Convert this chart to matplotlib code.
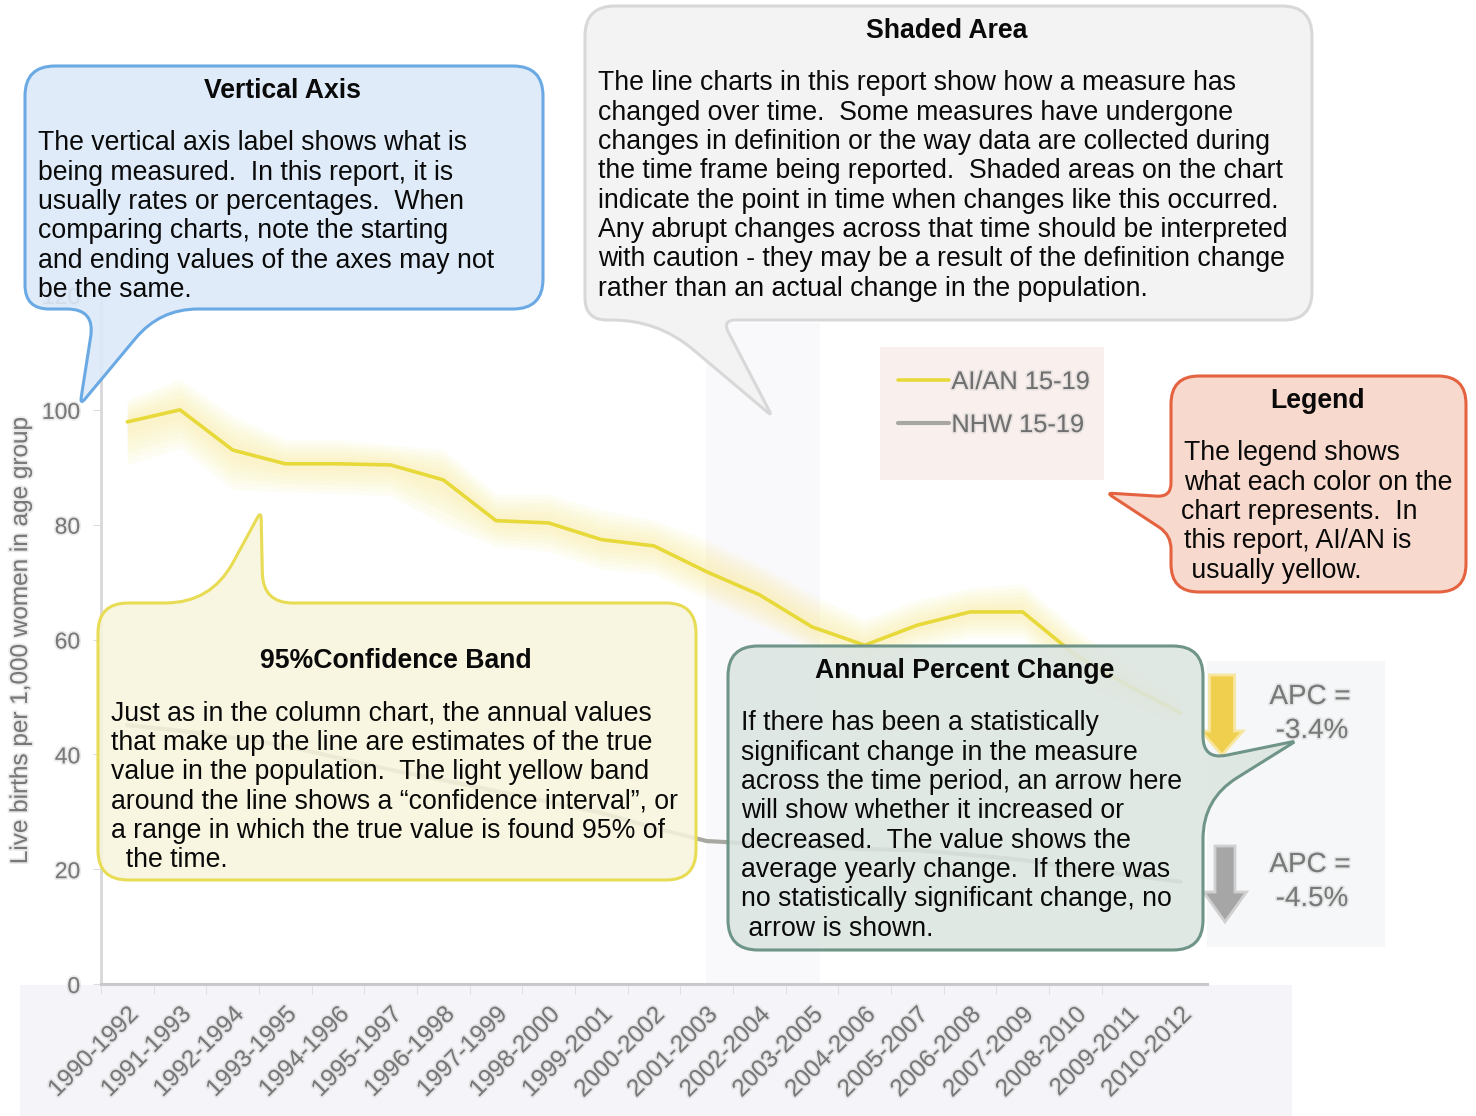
import matplotlib
matplotlib.use('Agg')
import matplotlib.pyplot as plt
import matplotlib.patheffects as pe
import numpy as np
from matplotlib.patches import FancyArrow, PathPatch, Rectangle
from matplotlib.path import Path

# Values
periods = ['1990-1992', '1991-1993', '1992-1994', '1993-1995', '1994-1996', '1995-1997', '1996-1998',
           '1997-1999', '1998-2000', '1999-2001', '2000-2002', '2001-2003', '2002-2004', '2003-2005',
           '2004-2006', '2005-2007', '2006-2008', '2007-2009', '2008-2010', '2009-2011', '2010-2012']
aian = [97.9, 100, 93, 90.6, 90.6, 90.4, 87.8, 80.7, 80.3, 77.4, 76.3, 71.8, 67.8, 62.2, 59, 62.5, 64.8,
        64.8, 57.3, 52, 47.2]
aian_upper = [101.7, 105.4, 99, 94.8, 94.8, 93.9, 93.1, 85.3, 85.3, 82.6, 80.8, 77.4, 73, 67.8, 63.5, 66.9,
              69, 69.7, 61.8, 55.7, 49.5]
aian_lower = [90.4, 93.3, 86.1, 85.7, 85.4, 85, 80, 76.2, 75.3, 72.2, 71.4, 67, 62.7, 58.5, 54.7, 58.5,
              60.3, 60.3, 52.6, 48.8, 45.1]
nhw = [45.1, 44.1, 42.9, 41.5, 39.4, 37.3, 35.5, 33.6, 31.7, 29.8, 27.2, 24.9, 24.4, 23.9, 23.5, 23.3, 22.5,
       21.6, 20.2, 19, 17.8]
y_ticks = [0, 20, 40, 60, 80, 100, 120]

vertical_lines = ['The vertical axis label shows what is', 'being measured.  In this report, it is',
                  'usually rates or percentages.  When', 'comparing charts, note the starting',
                  'and ending values of the axes may not', 'be the same.']
shaded_lines = ['The line charts in this report show how a measure has',
                'changed over time.  Some measures have undergone',
                'changes in definition or the way data are collected during',
                'the time frame being reported.  Shaded areas on the chart',
                'indicate the point in time when changes like this occurred.',
                'Any abrupt changes across that time should be interpreted',
                'with caution - they may be a result of the definition change',
                'rather than an actual change in the population.']
legend_lines = ['The legend shows', 'what each color on the', 'chart represents.  In',
                'this report, AI/AN is', ' usually yellow.']
band_lines = ['Just as in the column chart, the annual values', 'that make up the line are estimates of the true',
              'value in the population.  The light yellow band', 'around the line shows a “confidence interval”, or',
              'a range in which the true value is found 95% of', '  the time.']
apc_lines = ['If there has been a statistically', 'significant change in the measure',
             'across the time period, an arrow here', 'will show whether it increased or',
             'decreased.  The value shows the', 'average yearly change.  If there was',
             'no statistically significant change, no', ' arrow is shown.']

W, H = 1476, 1116
plt.rcParams['font.family'] = ['Liberation Sans', 'DejaVu Sans']
GREY = '#787878'
SOFT = [pe.withStroke(linewidth=2.5, foreground='#c4c4c4', alpha=0.35)]


def pixel_axes(zorder):
    ax = fig.add_axes([0, 0, 1, 1], zorder=zorder)
    ax.set_xlim(0, W)
    ax.set_ylim(H, 0)
    ax.axis('off')
    return ax


def rounded_path(points):
    # polygon with a corner radius per vertex, given as (x, y, r)
    verts, codes = [], []
    n = len(points)
    for i in range(n):
        p = np.array(points[i][:2], dtype=float)
        r = points[i][2]
        before = np.array(points[i - 1][:2], dtype=float) - p
        after = np.array(points[(i + 1) % n][:2], dtype=float) - p
        start = p + before / np.linalg.norm(before) * r
        end = p + after / np.linalg.norm(after) * r
        verts.append(start)
        codes.append(Path.MOVETO if i == 0 else Path.LINETO)
        verts += [p, end]
        codes += [Path.CURVE3, Path.CURVE3]
    verts.append(verts[0])
    codes.append(Path.CLOSEPOLY)
    return Path(verts, codes)


def callout(ax, points, face, edge, alpha=0.9):
    ax.add_patch(PathPatch(rounded_path(points), facecolor=matplotlib.colors.to_rgba(face, alpha),
                           edgecolor=edge, linewidth=2.2, zorder=3))


def body_text(ax, x, y, lines, step=29.3, size=19.2):
    for i, line in enumerate(lines):
        ax.text(x, y + i * step, line, fontsize=size, color='#0a0a0a', va='center', ha='left', zorder=4)


def title_text(ax, x, y, text):
    ax.text(x, y, text, fontsize=19.2, fontweight='bold', color='#0a0a0a', va='center', ha='center', zorder=4)


fig = plt.figure(figsize=(W / 100, H / 100), dpi=100, facecolor='white')

# Pale scanned-in panels behind the chart
back = pixel_axes(0)
back.add_patch(Rectangle((20, 985), 1272, 131, facecolor='#f5f5f9', edgecolor='none'))
back.add_patch(Rectangle((880, 347), 224, 133, facecolor='#f9f0ee', edgecolor='none'))
back.add_patch(Rectangle((1207, 661), 178, 286, facecolor='#f5f7f8', edgecolor='none'))

# Chart
ax = fig.add_axes([101 / W, 1 - 984 / H, (1207 - 101) / W, (984 - 295) / H], zorder=1)
ax.patch.set_alpha(0)
x = np.arange(len(periods))
ax.set_xlim(-0.5, 20.5)
ax.set_ylim(0, 120)
ax.axvspan(10.98, 13.16, ymax=0.96, color='#f9f9fb', lw=0, zorder=0)

# Soft edged band, built up from the limits towards the line
line_vals = np.array(aian)
upper = np.array(aian_upper)
lower = np.array(aian_lower)
for frac in [1.0, 0.85, 0.7, 0.55, 0.4, 0.25]:
    ax.fill_between(x, line_vals + frac * (lower - line_vals), line_vals + frac * (upper - line_vals),
                    color='#fbe98c', alpha=0.09, lw=0, zorder=1)

ax.plot(x, nhw, color='#a9a8a0', lw=3, label='NHW 15-19', zorder=2, solid_capstyle='round')
ax.plot(x, aian, color='#e8d93a', lw=2.6, label='AI/AN 15-19', zorder=3, solid_capstyle='round')

for side in ['top', 'right']:
    ax.spines[side].set_visible(False)
ax.spines['left'].set_color('#d8d8da')
ax.spines['left'].set_linewidth(2)
ax.spines['bottom'].set_color('#c9c9cb')
ax.spines['bottom'].set_linewidth(2.2)

ax.set_yticks(y_ticks)
ax.tick_params(axis='y', length=6, color='#dddddd', labelsize=16.5, labelcolor=GREY, pad=9)
ax.set_xticks(x)
ax.set_xticklabels(periods, rotation=45, ha='right', rotation_mode='anchor', fontsize=17.5, color=GREY)
ax.tick_params(axis='x', length=0, pad=14)
ax.set_xticks(x[:-1] - 0.5, minor=True)
ax.tick_params(axis='x', which='minor', length=7, color='#dddddd')
ax.set_ylabel('Live births per 1,000 women in age group', fontsize=17.5, color=GREY)
ax.yaxis.set_label_coords(-69 / (1207 - 101), (984 - 641) / (984 - 295))
for label in ax.get_xticklabels() + ax.get_yticklabels() + [ax.yaxis.label]:
    label.set_path_effects(SOFT)

handles, labels = ax.get_legend_handles_labels()
leg = ax.legend(handles[::-1], labels[::-1], loc='upper left', frameon=False, fontsize=18.3,
                bbox_to_anchor=((898 - 101) / (1207 - 101), (984 - 370) / (984 - 295)), borderpad=0,
                borderaxespad=0, handlelength=2.0, handletextpad=0.1, labelspacing=0.75, labelcolor='#6f6f6f')
for text in leg.get_texts():
    text.set_path_effects(SOFT)

# Callouts and the APC arrows sit on top
top = pixel_axes(2)
top.add_patch(FancyArrow(1222, 675, 0, 80, width=25, head_width=42, head_length=24, length_includes_head=True,
                         facecolor='#f0cf4e', edgecolor='#f7e6a0', linewidth=2, zorder=1))
top.add_patch(FancyArrow(1225, 846, 0, 76, width=20, head_width=43, head_length=30, length_includes_head=True,
                         facecolor='#a5a6a5', edgecolor='#d0d0d0', linewidth=2, zorder=1))
for xc, yc, text in [(1310, 697, 'APC ='), (1312, 731, '-3.4%'), (1310, 865, 'APC ='), (1312, 899, '-4.5%')]:
    top.text(xc, yc, text, fontsize=20, color=GREY, ha='center', va='center', zorder=2, path_effects=SOFT)

callout(top, [(25, 66, 30), (543, 66, 30), (543, 309, 30), (160, 309, 38), (80, 405, 8), (95, 309, 28),
              (25, 309, 24)], '#dce9f8', '#6aa9e4')
callout(top, [(585, 6, 30), (1312, 6, 30), (1312, 320, 28), (722, 320, 14), (772, 416, 6), (658, 320, 46),
              (585, 320, 22)], '#f3f3f3', '#d8d8d8', alpha=0.95)
callout(top, [(98, 603, 30), (211, 603, 46), (261, 511, 8), (263, 603, 30), (696, 603, 30), (696, 880, 30),
              (98, 880, 30)], '#f7f5dc', '#e8dc55', alpha=0.87)
callout(top, [(728, 646, 30), (1203, 646, 30), (1203, 760, 24), (1296, 741, 5), (1203, 799, 40), (1203, 950, 30),
              (728, 950, 30)], '#dce5e1', '#6f9488', alpha=0.88)
callout(top, [(1171, 376, 28), (1466, 376, 28), (1466, 592, 28), (1171, 592, 28), (1171, 535, 14), (1107, 493, 6),
              (1171, 497, 14)], '#f8d9cd', '#e4623f', alpha=1)

title_text(top, 283, 91, 'Vertical Axis')
body_text(top, 38, 143.5, vertical_lines)
title_text(top, 947, 31, 'Shaded Area')
body_text(top, 598, 83.5, shaded_lines)
title_text(top, 1317, 401, 'Legend')
body_text(top, 1184, 453.5, legend_lines[:2])
body_text(top, 1181, 512, legend_lines[2:3])
body_text(top, 1184, 541.5, legend_lines[3:])
title_text(top, 396, 661, '95%Confidence Band')
body_text(top, 111, 713.5, band_lines)
title_text(top, 965, 671, 'Annual Percent Change')
body_text(top, 741, 723.5, apc_lines)

plt.savefig('out.png', dpi=100)
